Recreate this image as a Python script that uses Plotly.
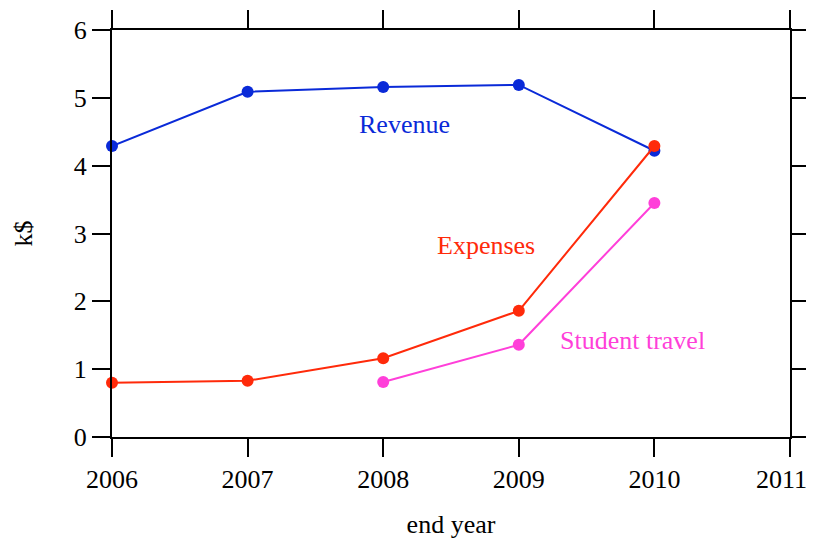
import plotly.graph_objects as go

years_rev = [2006, 2007, 2008, 2009, 2010]
revenue = [4.29, 5.09, 5.16, 5.19, 4.22]
years_exp = [2006, 2007, 2008, 2009, 2010]
expenses = [0.80, 0.83, 1.16, 1.86, 4.29]
years_travel = [2008, 2009, 2010]
travel = [0.81, 1.36, 3.45]

labels = ["Revenue", "Expenses", "Student travel"]
label_x = [2008.16, 2008.76, 2009.84]
label_y = [4.61, 2.83, 1.43]
colors = ["#0a2ad8", "#ff2a0a", "#ff3fd9"]

x_ticks = [2006, 2007, 2008, 2009, 2010, 2011]
y_ticks = [0, 1, 2, 3, 4, 5, 6]

FONT = "Liberation Serif, Times New Roman, serif"
FS = 26

fig = go.Figure()
for xs, ys, c, name in [(years_rev, revenue, colors[0], labels[0]),
                        (years_exp, expenses, colors[1], labels[1]),
                        (years_travel, travel, colors[2], labels[2])]:
    fig.add_trace(go.Scatter(x=xs, y=ys, mode="lines+markers", name=name,
                             line=dict(color=c, width=2),
                             marker=dict(color=c, size=12),
                             cliponaxis=False, showlegend=False))

for t, x, y, c in zip(labels, label_x, label_y, colors):
    fig.add_annotation(x=x, y=y, text=t, showarrow=False,
                       font=dict(family=FONT, size=FS, color=c))

# last x tick label drawn as annotation (Plotly hides labels that overflow the figure edge)
tick_text = [str(v) for v in x_ticks]
fig.add_annotation(x=x_ticks[-1], xref="x", y=0, yref="paper", text=tick_text[-1],
                   showarrow=False, yanchor="middle", xanchor="right", yshift=-42, xshift=19,
                   font=dict(family=FONT, size=FS, color="black"))

axis_common = dict(showgrid=False, zeroline=False, showline=True, linecolor="black",
                   linewidth=2, mirror="allticks", ticks="outside", ticklen=18,
                   tickwidth=2, tickcolor="black", automargin=False,
                   tickfont=dict(family=FONT, size=FS, color="black"))

fig.update_xaxes(range=[2006, 2011], tickvals=x_ticks, ticktext=tick_text[:-1] + [""],
                 title=dict(text="end year", font=dict(family=FONT, size=FS, color="black"), standoff=22),
                 **axis_common)
fig.update_yaxes(range=[0, 6], tickvals=y_ticks, ticktext=[str(v) for v in y_ticks],
                 title=dict(text="k$", font=dict(family=FONT, size=FS, color="black"), standoff=34),
                 **axis_common)

fig.update_layout(width=806, height=531, plot_bgcolor="white", paper_bgcolor="white",
                  margin=dict(l=104, r=24, t=22, b=102),
                  font=dict(family=FONT, size=FS, color="black"))

fig.write_html("out.html")
